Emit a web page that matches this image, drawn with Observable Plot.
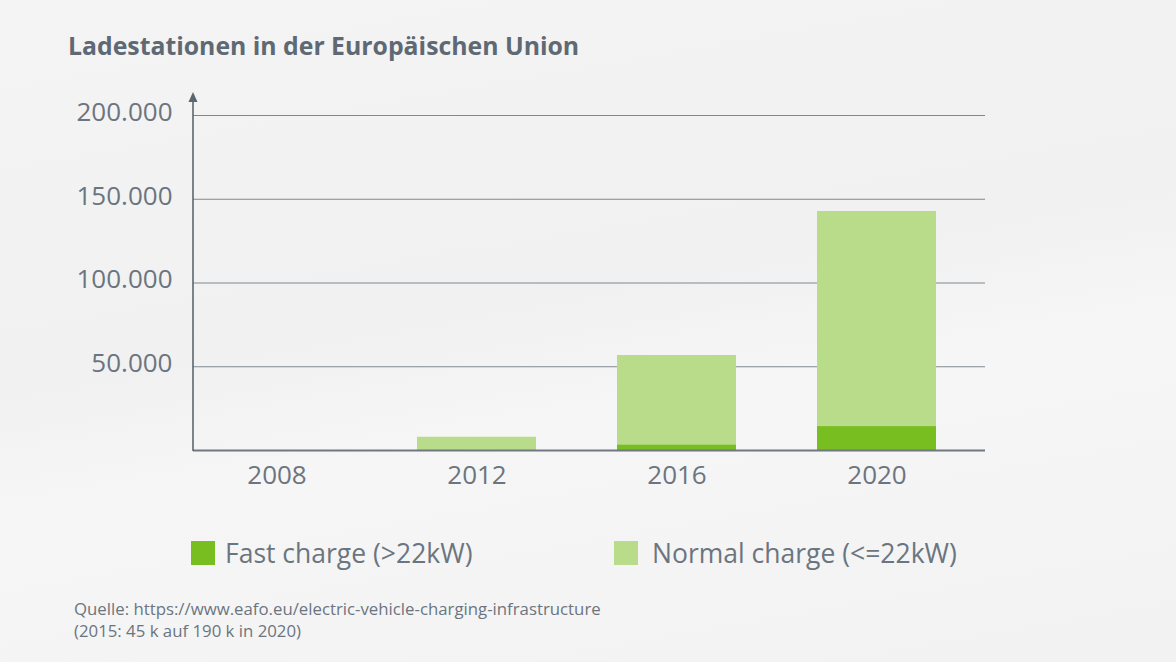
<!DOCTYPE html>
<html>
<head>
<meta charset="utf-8">
<script src="https://cdn.jsdelivr.net/npm/d3@7"></script>
<script src="https://cdn.jsdelivr.net/npm/@observablehq/plot@0.6"></script>
<style>
  html, body { margin: 0; padding: 0; }
  body {
    width: 1176px; height: 662px; position: relative; overflow: hidden;
    font-family: "Open Sans", sans-serif; color: #6b7580;
    background: linear-gradient(170deg, #f4f4f4 0%, #f1f1f1 45%, #f6f6f6 60%, #f2f2f2 100%);
  }
  #title { position: absolute; left: 68px; top: 28px; font-size: 24.8px; font-weight: 700; color: #5e6973; }
  #chart { position: absolute; left: 0; top: 80px; }
  #legend { position: absolute; top: 535px; left: 0; width: 1176px; height: 36px; }
  .li { position: absolute; display: flex; align-items: center; font-size: 26.5px; color: #6b7580; }
  .sw { width: 24px; height: 24px; display: inline-block; }
  #source { position: absolute; left: 74px; top: 598px; font-size: 16.8px; line-height: 22px; color: #6b7580; }
</style>
</head>
<body>
<div id="title">Ladestationen in der Europäischen Union</div>
<div id="chart"></div>
<div id="legend"></div>
<div id="source">Quelle: https://www.eafo.eu/electric-vehicle-charging-infrastructure<br>(2015: 45 k auf 190 k in 2020)</div>
<script>
const years = ["2008", "2012", "2016", "2020"];
const fastCharge = [0, 0, 3400, 14300];
const normalCharge = [0, 7900, 53300, 128400];
const seriesNames = ["Fast charge (>22kW)", "Normal charge (<=22kW)"];
const seriesColors = ["#78be20", "#b8dc8a"];
const yTicks = [50000, 100000, 150000, 200000];

const data = [];
years.forEach((y, i) => {
  data.push({year: y, type: seriesNames[0], value: fastCharge[i]});
  data.push({year: y, type: seriesNames[1], value: normalCharge[i]});
});

const fmt = d => d3.format(",")(d).replace(/,/g, ".");

const chart = Plot.plot({
  width: 1176,
  height: 430,
  marginTop: 35,
  marginBottom: 60,
  marginLeft: 193,
  marginRight: 191,
  style: {background: "transparent", fontFamily: "Open Sans, sans-serif", color: "#6b7580"},
  x: {domain: years, paddingInner: 0.405, paddingOuter: 0.1825, align: 0.33, label: null},
  y: {domain: [0, 200000], label: null},
  color: {domain: seriesNames, range: seriesColors},
  marks: [
    Plot.gridY(yTicks, {stroke: "#7f8891", strokeOpacity: 1, strokeWidth: 1}),
    Plot.barY(data, {x: "year", y: "value", fill: "type", order: seriesNames}),
    Plot.ruleY([0], {stroke: "#6f7880", strokeWidth: 2}),
    Plot.axisY(yTicks, {tickSize: 0, tickPadding: 21, tickFormat: fmt, fontSize: 26, dy: -3, fill: "#6b7580"}),
    Plot.axisX({tickSize: 0, tickPadding: 15, fontSize: 26, fill: "#6b7580"})
  ]
});
document.getElementById("chart").appendChild(chart);

// vertical axis with arrow
const ys = chart.scale("y");
const svg = d3.select(chart);
const x0 = 193;
const yBase = ys.apply(0), yTop = ys.apply(212500);
svg.append("line").attr("x1", x0).attr("x2", x0).attr("y1", yBase + 1).attr("y2", yTop + 6)
  .attr("stroke", "#5c6670").attr("stroke-width", 1.6);
svg.append("path").attr("d", `M${x0 - 4.5},${yTop + 8}L${x0},${yTop - 2}L${x0 + 4.5},${yTop + 8}Z`).attr("fill", "#5c6670");

// legend
const legend = document.getElementById("legend");
const lx = [191, 614];
const gap = [10, 14];
seriesNames.forEach((n, i) => {
  const d = document.createElement("div");
  d.className = "li";
  d.style.left = lx[i] + "px";
  d.innerHTML = `<span class="sw" style="background:${seriesColors[i]};margin-right:${gap[i]}px"></span><span>${n.replace(/</g, "&lt;").replace(/>/g, "&gt;")}</span>`;
  legend.appendChild(d);
});
</script>
</body>
</html>
